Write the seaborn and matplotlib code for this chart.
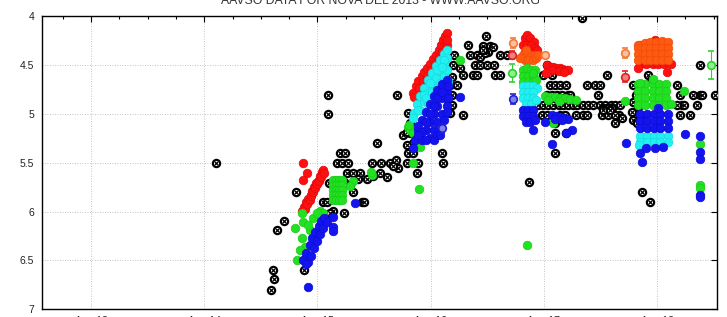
import matplotlib
matplotlib.use("Agg")
import matplotlib.pyplot as plt
import numpy as np
import pandas as pd
import seaborn as sns
from matplotlib.ticker import MultipleLocator, FixedLocator

# ---------------- data (day of Aug 2013 UT, magnitude) ----------------
vis = [(17.34,4.02),(14.10,5.50),(14.61,6.60),(14.62,6.69),(14.59,6.80),(14.88,6.60),(14.70,6.10),(14.64,6.19),(14.81,5.80),
       (15.09,4.81),(15.09,5.00),(15.70,4.81),(15.53,5.30),(15.20,5.40),(15.24,5.40),(15.17,5.50),(15.22,5.50),(15.27,5.50),
       (15.48,5.50),(15.56,5.50),(15.26,5.61),(15.31,5.61),(15.38,5.61),(15.36,5.67),(15.44,5.67),(15.49,5.64),(15.55,5.61),
       (15.61,5.65),(15.64,5.50),(15.69,5.47),(15.71,5.55),(15.67,5.53),(15.79,5.50),(15.89,5.50),(15.88,5.61),
       (15.10,5.71),(15.16,5.71),(15.23,5.70),(15.29,5.73),(15.31,5.80),(15.05,5.90),(15.08,5.90),(15.39,5.90),(15.41,5.90),
       (15.14,5.99),(15.23,6.01),(15.11,6.01),
       (15.80,4.99),(15.82,5.09),(15.82,5.20),(15.84,5.30),(15.80,5.40),(15.84,5.40),(15.79,5.32),(15.76,5.22),(15.79,5.19),
       (16.10,5.40),(16.11,5.50),(16.15,4.91),(16.19,4.91),(16.17,4.99),(16.29,5.01),(16.19,4.81),(16.17,4.71),(16.23,4.71),
       (16.19,4.62),(16.21,4.40),(16.33,4.30),(16.35,4.40),(16.41,4.40),(16.20,4.50),(16.26,4.53),(16.39,4.50),(16.37,4.60),
       (16.41,4.60),(16.49,4.20),(16.46,4.31),(16.52,4.31),(16.51,4.37),(16.44,4.42),(16.48,4.38),(16.61,4.40),(16.67,4.40),
       (16.44,4.50),(16.50,4.50),(16.57,4.60),(16.61,4.60),(16.29,4.60),(16.55,4.32),(16.46,4.35),(16.56,4.50),
       (17.03,4.50),(16.99,4.60),(17.07,4.60),(17.05,4.71),(17.10,4.71),(17.14,4.71),(17.20,4.71),
       (16.95,4.91),(16.99,4.91),(17.04,4.91),(17.08,4.91),(17.13,4.91),(17.17,4.91),(17.21,4.91),(17.26,4.91),(17.29,4.91),
       (17.03,4.81),(17.07,4.81),(17.12,4.81),(17.16,4.81),(17.21,4.81),(17.23,4.81),
       (17.38,4.71),(17.45,4.71),(17.50,4.71),(17.56,4.60),(17.48,4.81),
       (17.35,4.91),(17.39,4.91),(17.43,4.91),(17.50,4.91),(17.54,4.91),(17.59,4.91),(17.63,4.91),(17.67,4.91),
       (17.52,4.94),(17.57,4.94),(17.60,4.94),
       (16.98,5.01),(17.03,5.01),(17.14,5.01),(17.19,5.01),(17.28,5.01),(17.35,5.01),(17.38,5.01),(17.51,5.01),(17.57,5.01),
       (17.66,5.01),(17.63,5.01),
       (17.69,5.04),(17.63,5.09),(17.10,5.09),(17.10,5.20),(17.20,5.20),(17.10,5.40),(16.87,5.70),
       (17.79,4.71),(17.52,4.96),(17.58,4.96),
       (17.92,4.60),(17.95,4.65),(18.18,4.71),(18.20,4.81),(18.22,4.91),(18.20,5.01),(18.29,5.01),(18.32,4.81),(18.38,4.81),
       (18.40,4.81),(18.51,4.81),(18.35,4.91),(18.38,4.50),(17.87,5.80),(17.94,5.90),
       (17.79,4.88),(17.78,4.98),(17.79,5.06),(17.82,5.09),(17.83,4.93),(17.85,5.01),(17.89,5.06),(17.81,4.81),
       (18.18,4.91),(18.24,4.91)]

red = [(14.87,5.50),(14.91,5.61),(14.87,5.68),
       (14.86,5.99),(14.88,5.95),(14.90,5.90),(14.92,5.87),(14.94,5.83),(14.95,5.79),(14.97,5.75),(14.99,5.71),(15.01,5.68),
       (15.02,5.64),(15.04,5.60),(15.05,5.58),
       (14.89,5.97),(14.91,5.92),(14.93,5.88),(14.94,5.84),(14.96,5.80),(14.98,5.76),(15.00,5.72),(15.01,5.69),(15.03,5.65),
       (15.06,5.61),
       (15.84,4.79),(15.87,4.72),(15.89,4.66),(15.92,4.61),(15.94,4.57),(15.97,4.53),(15.99,4.49),(16.02,4.44),(16.05,4.40),
       (16.07,4.35),(16.09,4.30),(16.11,4.25),(16.13,4.20),(16.14,4.17),
       (15.90,4.74),(15.93,4.68),(15.97,4.61),(16.00,4.55),(16.04,4.49),(16.07,4.43),(16.10,4.37),(16.14,4.30),(16.14,4.25),
       (15.85,4.83),
       (16.83,4.22),(16.85,4.19),(16.88,4.22),(16.91,4.27),(16.82,4.30),(16.85,4.30),(16.89,4.30),(16.92,4.33),(16.83,4.37),
       (16.87,4.37),(16.91,4.39),(16.94,4.35),
       (17.03,4.50),(17.05,4.52),(17.08,4.52),(17.11,4.53),(17.14,4.53),(17.16,4.54),(17.19,4.55),(17.21,4.55),(17.07,4.55),
       (17.13,4.56),(17.18,4.57),(17.02,4.58),
       (17.85,4.49),(17.90,4.49),(17.96,4.49),(18.01,4.49),(18.06,4.49),(18.12,4.49),(17.83,4.53),(18.09,4.57),
       (17.85,4.30),(17.98,4.25)]

orng = [(16.82,4.40),(16.85,4.40),(16.89,4.40),(16.92,4.40),(16.83,4.45),(16.86,4.45),(16.90,4.45),(16.93,4.43),
        (16.79,4.43),(16.95,4.40),(16.84,4.35),
        (17.83,4.30),(17.89,4.28),(17.94,4.27),(17.99,4.27),(18.04,4.26),(18.10,4.27),
        (17.83,4.33),(17.89,4.33),(17.94,4.33),(17.99,4.33),(18.04,4.33),(18.10,4.33),
        (17.83,4.39),(17.89,4.39),(17.94,4.39),(17.99,4.39),(18.04,4.39),(18.10,4.39),
        (17.83,4.45),(17.89,4.45),(17.94,4.45),(17.99,4.45),(18.04,4.45),(18.10,4.45)]

green = [(15.80,5.14),(15.82,5.17),(15.84,5.20),(15.81,5.11),(15.91,5.34),(15.84,5.50),(16.26,4.45),(15.90,5.77),
         (15.48,5.63),(15.47,5.60),(15.31,5.69),(15.29,5.74),
         (15.14,5.68),(15.16,5.68),(15.19,5.68),(15.22,5.68),(15.14,5.73),(15.16,5.73),(15.19,5.73),(15.22,5.73),
         (15.14,5.78),(15.16,5.78),(15.19,5.78),(15.22,5.78),(15.14,5.83),(15.16,5.83),(15.19,5.83),(15.22,5.83),
         (15.14,5.88),(15.16,5.88),(15.19,5.88),(15.22,5.88),
         (14.86,6.01),(14.87,6.11),(14.80,6.17),(14.82,6.50),(14.93,6.19),(14.86,6.27),(14.89,6.36),(14.96,6.07),
         (15.02,5.99),(15.05,6.01),(15.00,6.01),(14.92,6.14),(14.85,6.39),(14.90,6.45),
         (16.82,4.55),(16.85,4.53),(16.89,4.55),(16.92,4.55),(16.82,4.61),(16.86,4.61),(16.90,4.61),(16.82,4.68),
         (16.86,4.68),(16.90,4.68),(16.93,4.65),(16.90,4.58),
         (17.01,4.82),(17.05,4.83),(17.10,4.83),(17.14,4.84),(17.19,4.84),(17.23,4.85),(17.28,4.86),(17.04,4.86),(17.13,4.87),
         (17.08,5.09),(16.85,6.34),
         (17.83,4.70),(17.89,4.70),(17.96,4.70),(18.02,4.70),(18.08,4.70),(17.83,4.77),(17.89,4.77),(17.96,4.77),(18.02,4.77),
         (18.08,4.77),(17.83,4.84),(17.89,4.84),(17.96,4.84),(18.02,4.84),(18.08,4.84),(17.83,4.91),(17.89,4.91),(17.96,4.91),
         (18.02,4.91),(18.08,4.91),
         (17.72,4.87),(17.85,4.69),(17.96,4.64),(18.24,4.77),(18.38,5.31),(18.38,5.73),(18.38,5.76),(18.12,4.90)]

cyan = [(15.85,4.99),(15.88,4.90),(15.91,4.82),(15.94,4.74),(15.98,4.65),(16.01,4.58),(16.05,4.51),(16.08,4.45),(16.12,4.39),
        (16.14,4.35),(15.91,4.96),(15.94,4.87),(15.98,4.79),(16.01,4.72),(16.05,4.63),(16.08,4.56),(16.12,4.49),(16.14,4.43),
        (15.98,4.90),(16.01,4.83),(16.05,4.76),(16.08,4.69),(16.12,4.61),(16.14,4.55),(16.15,4.66),(15.84,5.04),
        (15.89,4.96),(15.94,4.81),(15.99,4.69),(16.06,4.55),(16.12,4.45),(16.01,4.78),(15.96,4.84),(16.10,4.52),
        (16.82,4.72),(16.86,4.72),(16.90,4.72),(16.94,4.74),(16.82,4.78),(16.86,4.78),(16.90,4.78),(16.82,4.84),(16.86,4.84),
        (16.90,4.84),(16.84,4.90),(16.89,4.90),(16.93,4.86),
        (17.85,5.23),(17.91,5.23),(17.97,5.23),(18.03,5.23),(18.10,5.23),(17.85,5.29),(17.91,5.29),(17.97,5.29),(18.03,5.29),
        (18.10,5.29),(17.84,5.32)]

blue = [(14.87,6.50),(14.90,6.42),(14.93,6.34),(14.95,6.27),(14.98,6.21),(15.01,6.15),(15.03,6.10),(15.06,6.07),
        (14.92,6.52),(14.94,6.45),(14.97,6.37),(15.00,6.30),(15.02,6.23),(15.05,6.17),(15.08,6.11),(14.90,6.54),
        (15.14,6.06),(15.14,6.16),(15.14,6.20),(15.33,5.91),(14.92,6.77),
        (15.86,5.27),(15.89,5.17),(15.92,5.06),(15.96,4.98),(15.99,4.90),(16.03,4.82),(16.06,4.76),(16.10,4.70),(16.14,4.65),
        (15.92,5.27),(15.96,5.17),(15.99,5.08),(16.03,5.00),(16.06,4.92),(16.10,4.84),(16.14,4.78),(16.15,4.72),
        (15.99,5.25),(16.03,5.17),(16.06,5.08),(16.10,5.00),(16.14,4.92),(16.15,4.84),
        (15.89,5.12),(15.92,5.19),(15.96,5.08),(15.99,5.00),(16.03,4.92),(16.06,4.84),(16.10,4.78),(15.96,5.27),
        (16.03,5.27),(16.06,5.22),(16.12,5.06),(16.14,4.98),
        (15.84,5.35),(15.89,5.22),(16.08,5.22),(16.26,4.83),
        (16.82,4.96),(16.86,4.96),(16.90,4.96),(16.82,5.02),(16.86,5.02),(16.90,5.02),(16.84,5.08),(16.88,5.08),(16.92,5.06),
        (16.90,5.17),(17.01,5.08),(17.07,5.31),(17.25,5.17),(17.20,5.20),
        (17.07,5.01),(17.11,5.02),(17.14,5.03),(17.18,5.04),(17.21,5.05),(17.10,5.05),(17.16,5.06),
        (17.85,5.00),(17.91,5.00),(17.97,5.00),(18.03,5.00),(18.10,5.00),(17.85,5.07),(17.91,5.07),(17.97,5.07),(18.03,5.07),
        (18.10,5.07),(17.85,5.15),(17.91,5.15),(17.97,5.15),(18.03,5.15),(18.10,5.15),
        (17.73,5.30),(17.85,5.40),(17.87,5.49),(18.25,5.21),(18.38,5.23),(18.38,5.39),(18.38,5.46),(18.38,5.83),(18.38,5.85),
        (18.01,4.94),(17.90,5.35),(17.98,5.35),(18.05,5.34)]

# points drawn with error bars: (day, mag, err, band)
err_pts = [(16.73,4.28,0.05,'orange'),(16.72,4.40,0.04,'red'),(16.72,4.58,0.09,'green'),(16.73,4.85,0.05,'blue'),
           (17.01,4.40,0.02,'orange'),(17.72,4.38,0.05,'orange'),(17.72,4.62,0.06,'red'),(18.48,4.50,0.14,'green'),
           (16.10,5.15,0.05,'blue')]

x_major = [13, 14, 15, 16, 17, 18]
x_labels = ['Aug 13', 'Aug 14', 'Aug 15', 'Aug 16', 'Aug 17', 'Aug 18']
y_ticks = [4, 4.5, 5, 5.5, 6, 6.5, 7]
y_labels = ['4', '4.5', '5', '5.5', '6', '6.5', '7']
title = 'AAVSO DATA FOR NOVA DEL 2013 - WWW.AAVSO.ORG'

# ---------------- figure ----------------
sns.set_theme(style="white")
plt.rcParams['font.family'] = ['Liberation Sans', 'DejaVu Sans']

fig = plt.figure(figsize=(7.27, 3.17), dpi=100)
ax = fig.add_axes([0.0574, 0.0243, 0.9289, 0.9252])

def frame(pts):
    return pd.DataFrame(pts, columns=['day', 'mag'])

dv = frame(vis)
sns.scatterplot(data=dv, x='day', y='mag', ax=ax, marker='o', s=27, color='white',
                edgecolor='black', linewidth=1.6, zorder=3, legend=False)
sns.scatterplot(data=dv, x='day', y='mag', ax=ax, marker='x', s=6, color='black',
                linewidth=0.9, zorder=3.1, legend=False)

styles = [(red, '#ff1010', '#e00808'), (orng, '#ff5a10', '#f04c08'), (green, '#22e022', '#18cc18'),
          (cyan, '#20f0f0', '#18d8e0'), (blue, '#1414f0', '#0c0cd0')]
for i, (pts, fc, ec) in enumerate(styles):
    sns.scatterplot(data=frame(pts), x='day', y='mag', ax=ax, marker='o', s=38, color=fc,
                    edgecolor=ec, linewidth=0.5, zorder=4 + i * 0.1, legend=False)

ecol = {'orange': ('#f07a3a', '#f8c0a0'), 'red': ('#e02020', '#f08080'),
        'green': ('#30d030', '#90f090'), 'blue': ('#2020d0', '#8080f0')}
de = pd.DataFrame(err_pts, columns=['day', 'mag', 'err', 'band'])
for band, grp in de.groupby('band'):
    c, fcl = ecol[band]
    ax.errorbar(grp['day'], grp['mag'], yerr=grp['err'], fmt='o', ms=5.5, mfc=fcl, mec=c,
                mew=1.2, ecolor=c, elinewidth=0.8, capsize=2, capthick=0.8, zorder=5)

ax.set_xlim(12.564, 18.53)
ax.set_ylim(7, 4)
ax.xaxis.set_major_locator(FixedLocator(x_major))
ax.set_xticklabels(x_labels)
ax.xaxis.set_minor_locator(MultipleLocator(0.25))
ax.set_yticks(y_ticks)
ax.set_yticklabels(y_labels)
ax.set_xlabel('')
ax.set_ylabel('')

ax.grid(True, which='major', color='#b0b0b0', linestyle=(0, (1, 2)), linewidth=0.6)
ax.set_axisbelow(True)
ax.tick_params(which='major', direction='in', top=True, right=True, length=4, width=0.8,
               color='black', labelsize=7.5, labelcolor='#222222')
ax.tick_params(which='minor', direction='in', top=True, right=False, length=2.4, width=0.8, color='black')
ax.tick_params(axis='y', which='minor', left=False, right=False)
ax.tick_params(axis='y', pad=5.5)
ax.tick_params(axis='x', pad=4.5)
for sp in ax.spines.values():
    sp.set_color('black')
    sp.set_linewidth(1.0)

fig.text(0.523, 1 - 3.5 / 317, title, ha='center', va='baseline', fontsize=8.8, color='#333333')

fig.savefig('out.png', dpi=100)
